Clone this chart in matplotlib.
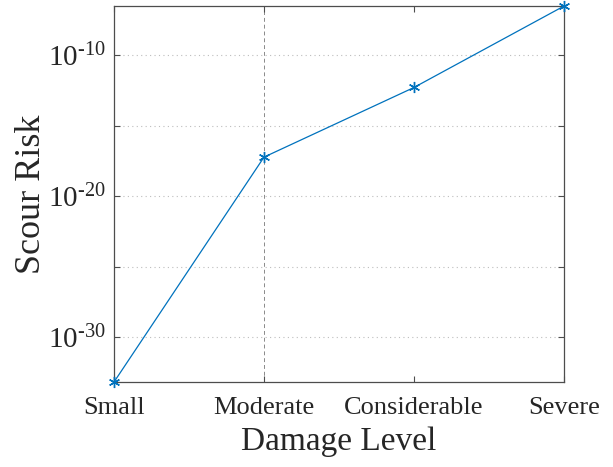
import matplotlib
matplotlib.use("Agg")
import matplotlib.pyplot as plt
from matplotlib.ticker import FixedLocator, FixedFormatter, NullLocator
import numpy as np

# Damage levels and the associated scour risk
damage_levels = ["Small", "Moderate", "Considerable", "Severe"]
scour_risk = [6.8e-34, 5.9e-18, 5.1e-13, 3.0e-7]

# Logarithmic y ticks (every 5 decades, labels every 10)
ytick_exponents = [-30, -25, -20, -15, -10]
ytick_labels = [r"$10^{\text{-}%d}$" % -e if e % 10 == 0 else "" for e in ytick_exponents]

plt.rcParams["font.family"] = ["Liberation Serif", "DejaVu Serif"]
plt.rcParams["mathtext.fontset"] = "custom"
plt.rcParams["mathtext.rm"] = "Liberation Serif"
plt.rcParams["mathtext.it"] = "Liberation Serif:italic"

text_color = "#262626"
axis_color = "#4d4d4d"
line_color = "#0072BD"

fig = plt.figure(figsize=(6.13, 4.67), dpi=100)
ax = fig.add_axes([0.186, 0.182, 0.734, 0.805])

x = np.arange(len(damage_levels))
ax.semilogy(x, scour_risk, color=line_color, linewidth=0.9,
            marker=(6, 2, 0), markersize=8, markeredgewidth=1.0,
            clip_on=False, zorder=3)

ax.set_xlim(x[0], x[-1])
ax.set_ylim(min(scour_risk), max(scour_risk))

ax.set_xticks(x)
ax.set_xticklabels(damage_levels)
ax.yaxis.set_major_locator(FixedLocator([10.0 ** e for e in ytick_exponents]))
ax.yaxis.set_major_formatter(FixedFormatter(ytick_labels))
ax.yaxis.set_minor_locator(NullLocator())

ax.tick_params(axis="both", which="major", direction="in", length=4, width=0.8,
               top=True, right=True, colors=axis_color, labelcolor=text_color)
ax.tick_params(axis="x", labelsize=19, pad=11)
ax.tick_params(axis="y", labelsize=21, pad=6)

ax.grid(True, axis="y", linestyle=(0, (1, 3)), color="#bdbdbd", linewidth=0.8)
ax.axvline(damage_levels.index("Moderate"), color="#8a8a8a",
           linestyle=(0, (4, 3)), linewidth=0.7, zorder=1)

for side in ax.spines.values():
    side.set_color(axis_color)
    side.set_linewidth(0.9)

ax.set_xlabel("Damage Level", fontsize=24, color=text_color, labelpad=5)
ax.set_ylabel("Scour Risk", fontsize=26, color=text_color, labelpad=0)

fig.savefig("out.png", dpi=100)
